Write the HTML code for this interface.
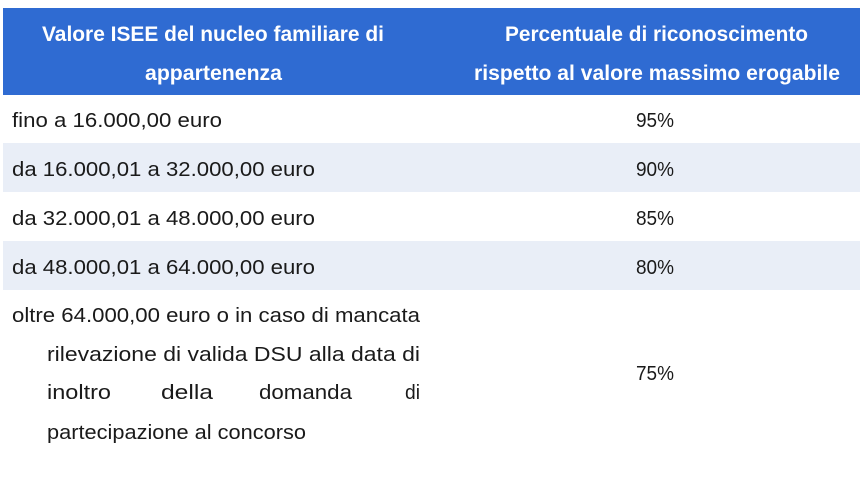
<!DOCTYPE html>
<html><head><meta charset="utf-8"><style>body{margin:0;background:#fff}svg{display:block}</style></head>
<body>
<svg width="865" height="478" xmlns="http://www.w3.org/2000/svg" font-family="Liberation Sans, sans-serif">
<rect x="0" y="0" width="865" height="478" fill="#fff"/>
<rect x="3" y="8" width="857" height="87" fill="#2f6bd2"/>
<rect x="3" y="143" width="857" height="49" fill="#e9eef7"/>
<rect x="3" y="241" width="857" height="49" fill="#e9eef7"/>
<g fill="#fff" font-weight="bold" font-size="21">
<text x="42" y="41" textLength="342" lengthAdjust="spacingAndGlyphs">Valore ISEE del nucleo familiare di</text>
<text x="145" y="80" textLength="137" lengthAdjust="spacingAndGlyphs">appartenenza</text>
<text x="505" y="41" textLength="303" lengthAdjust="spacingAndGlyphs">Percentuale di riconoscimento</text>
<text x="474" y="80" textLength="366" lengthAdjust="spacingAndGlyphs">rispetto al valore massimo erogabile</text>
</g>
<g fill="#1a1a1a" font-size="20">
<text x="12" y="127" textLength="210" lengthAdjust="spacingAndGlyphs">fino a 16.000,00 euro</text>
<text x="12" y="176" textLength="303" lengthAdjust="spacingAndGlyphs">da 16.000,01 a 32.000,00 euro</text>
<text x="12" y="225" textLength="303" lengthAdjust="spacingAndGlyphs">da 32.000,01 a 48.000,00 euro</text>
<text x="12" y="274" textLength="303" lengthAdjust="spacingAndGlyphs">da 48.000,01 a 64.000,00 euro</text>
<text x="636" y="127" textLength="38" lengthAdjust="spacingAndGlyphs">95%</text>
<text x="636" y="176" textLength="38" lengthAdjust="spacingAndGlyphs">90%</text>
<text x="636" y="225" textLength="38" lengthAdjust="spacingAndGlyphs">85%</text>
<text x="636" y="274" textLength="38" lengthAdjust="spacingAndGlyphs">80%</text>
<text x="636" y="380" textLength="38" lengthAdjust="spacingAndGlyphs">75%</text>
<text x="12" y="322" textLength="408" lengthAdjust="spacingAndGlyphs">oltre 64.000,00 euro o in caso di mancata</text>
<text x="47" y="361" textLength="373" lengthAdjust="spacingAndGlyphs">rilevazione di valida DSU alla data di</text>
<text x="47" y="399" textLength="64" lengthAdjust="spacingAndGlyphs">inoltro</text>
<text x="161" y="399" textLength="52" lengthAdjust="spacingAndGlyphs">della</text>
<text x="259" y="399" textLength="93" lengthAdjust="spacingAndGlyphs">domanda</text>
<text x="405" y="399" textLength="15" lengthAdjust="spacingAndGlyphs">di</text>
<text x="47" y="439" textLength="259" lengthAdjust="spacingAndGlyphs">partecipazione al concorso</text>
</g>
</svg>
</body></html>
